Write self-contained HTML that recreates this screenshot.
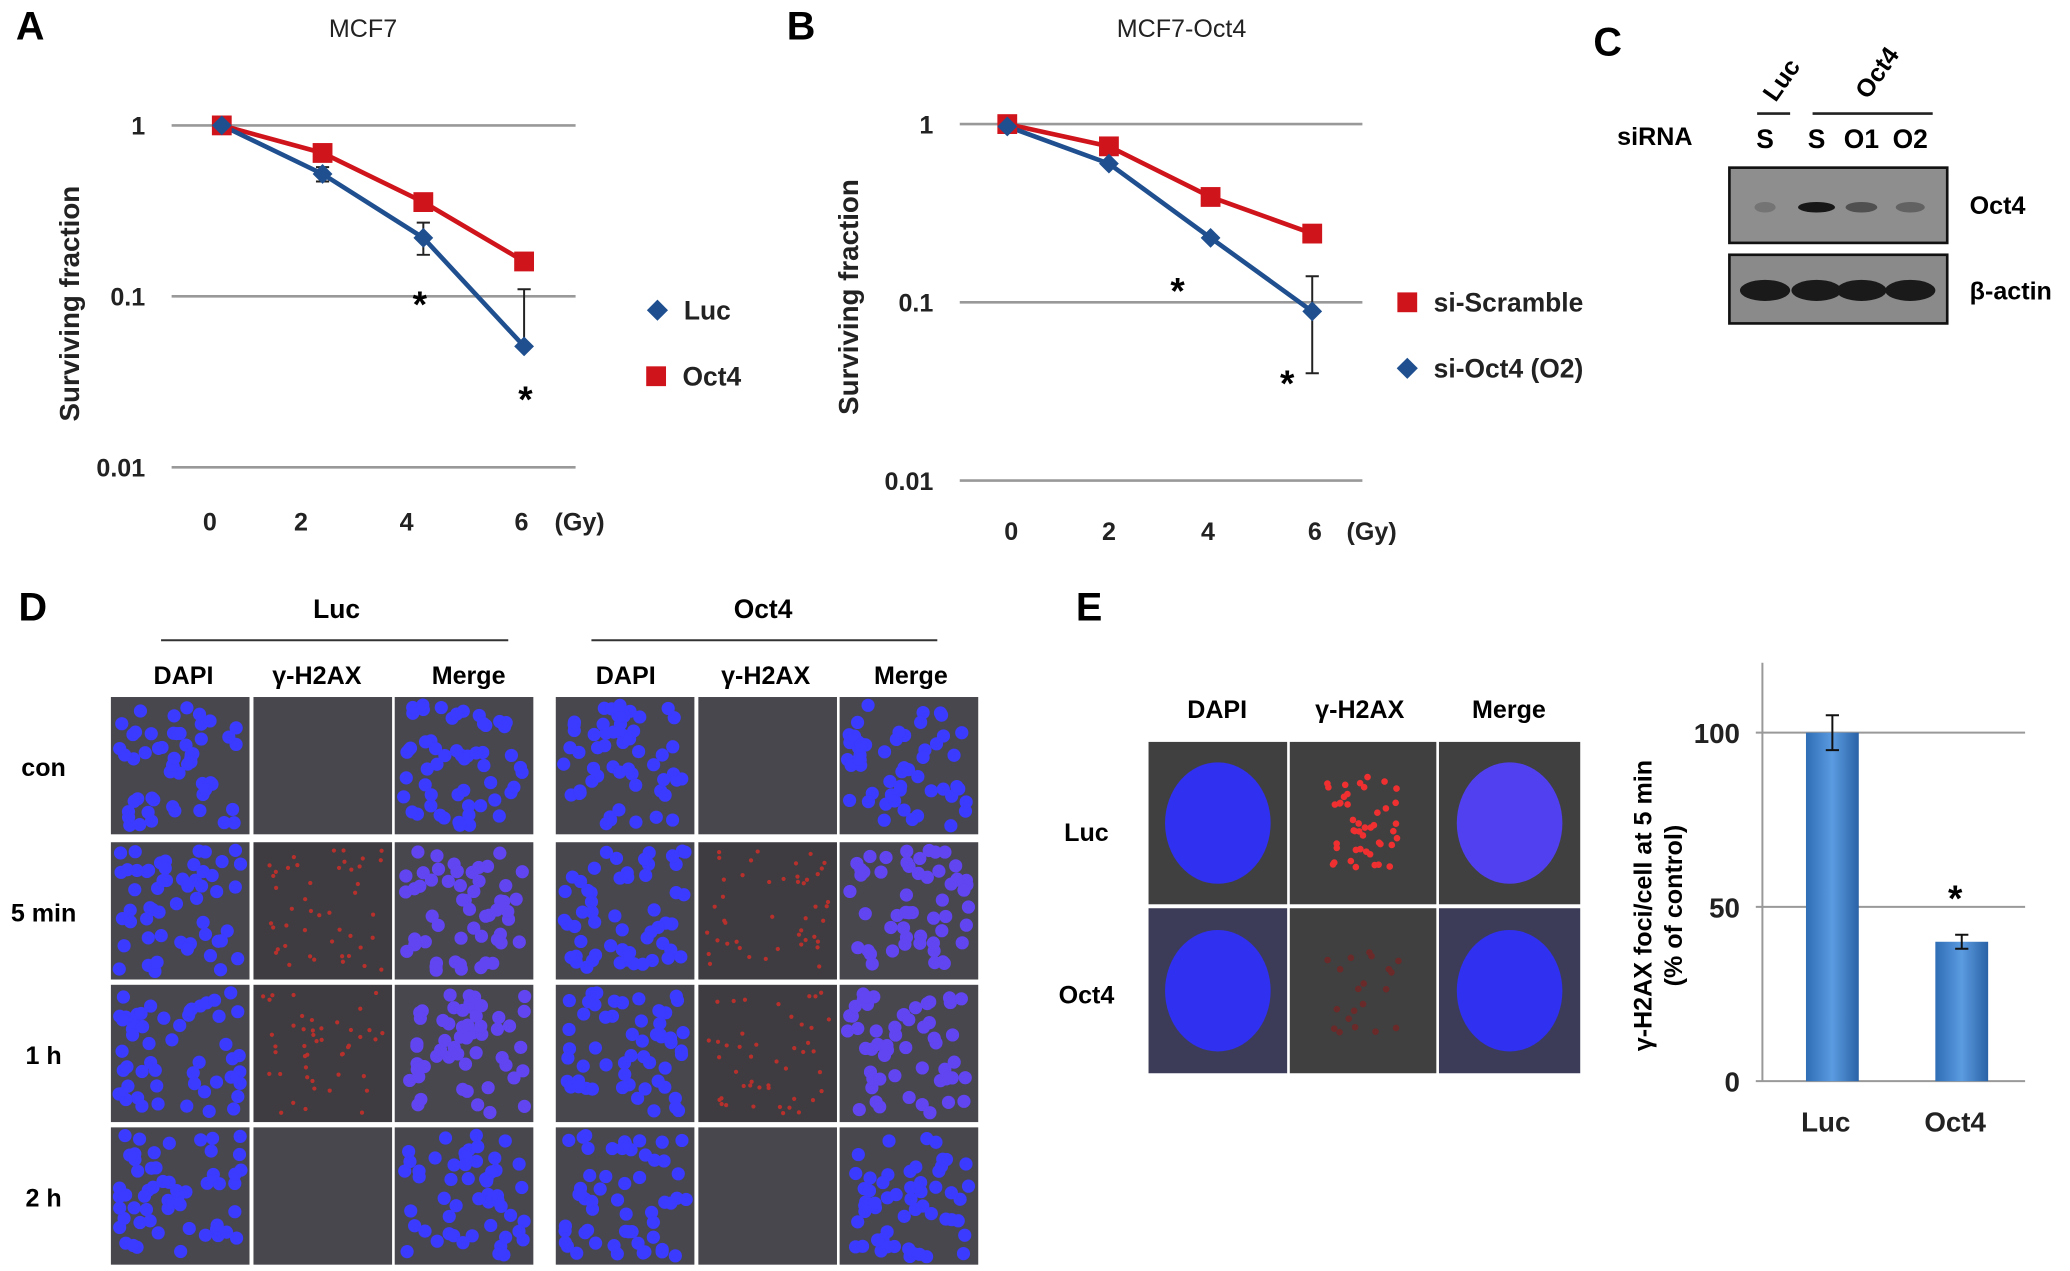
<!DOCTYPE html>
<html><head><meta charset="utf-8"><style>
html,body{margin:0;padding:0;background:#fff;}
svg{display:block;}
text{font-family:"Liberation Sans",sans-serif;}
</style></head><body>
<svg id="fig" width="2070" height="1271" viewBox="0 0 1568 962.8" preserveAspectRatio="none" xmlns="http://www.w3.org/2000/svg">
<defs>
<linearGradient id="barg" x1="0" x2="1" y1="0" y2="0"><stop offset="0" stop-color="#2f6db5"/><stop offset="0.5" stop-color="#5b9be0"/><stop offset="1" stop-color="#2a62a6"/></linearGradient>
</defs>
<g id="root"></g>
</svg>
<script>
// ===== Panel A data =====
const doseA = [0, 2, 4, 6];
const lucA = [1, 0.52, 0.22, 0.051];
const lucAerrHi = [1, 0.57, 0.27, 0.11];
const lucAerrLo = [1, 0.47, 0.175, 0.051];
const oct4A = [1, 0.69, 0.356, 0.16];
// ===== Panel B data =====
const doseB = [0, 2, 4, 6];
const scrB = [1, 0.75, 0.39, 0.243];
const siOctB = [0.97, 0.6, 0.23, 0.089];
const siOctBerrHi = [0.97, 0.6, 0.23, 0.14];
const siOctBerrLo = [0.97, 0.6, 0.23, 0.04];
const logTicks = [1, 0.1, 0.01];
const logTickLabels = ["1", "0.1", "0.01"];
// ===== Panel E bar data =====
const barCats = ["Luc", "Oct4"];
const barVals = [100, 40];
const barErr = [5, 2];
const barTicks = [0, 50, 100];

const NS = "http://www.w3.org/2000/svg";
const root = document.getElementById("root");
function mk(tag, attrs, parent, txt) {
  const e = document.createElementNS(NS, tag);
  for (const k in attrs) e.setAttribute(k, attrs[k]);
  if (txt !== undefined) e.textContent = txt;
  (parent || root).appendChild(e);
  return e;
}
function grp(name) {
  const g = mk("g", {});
  
  
  return g;
}
function diamond(cx, cy, r) { return `${cx},${cy - r} ${cx + r},${cy} ${cx},${cy + r} ${cx - r},${cy}`; }

// ---------- survival chart ----------
function survival(cfg) {
  const g = grp(cfg.name);
  const ys = v => cfg.y1 - cfg.dec * Math.log10(v);
  const xs = d => cfg.x0 + (cfg.x6 - cfg.x0) * d / 6;
  const pl = mk("text", {x: cfg.letterX, y: 30, "font-size": 30, "font-weight": "bold"}, g, cfg.letter);
  
  
  const t = mk("text", {x: cfg.titleX, y: 28, "font-size": 19, "text-anchor": "middle", fill: "#222"}, g, cfg.title);
  
  
  logTicks.forEach((v, i) => {
    const y = ys(v);
    const l = mk("line", {x1: cfg.gx0, x2: cfg.gx1, y1: y, y2: y, stroke: "#999", "stroke-width": 2}, g);
    
    
    const tl = mk("text", {x: cfg.tickX, y: y + 7, "font-size": 19, "text-anchor": "end", "font-weight": "bold", fill: "#222"}, g, logTickLabels[i]);
    
    
  });
  cfg.xLabelX.forEach((x, i) => {
    const tl = mk("text", {x: x, y: cfg.xLabelY, "font-size": 19, "text-anchor": "middle", "font-weight": "bold", fill: "#222"}, g, String(doseA[i]));
    
    
  });
  const gy = mk("text", {x: cfg.gyX, y: cfg.xLabelY, "font-size": 19, "font-weight": "bold", fill: "#222"}, g, "(Gy)");
  
  
  const yt = mk("text", {x: 0, y: 0, "font-size": 21, "font-weight": "bold", "text-anchor": "middle", fill: "#222", transform: `translate(${cfg.ylabX},${cfg.ylabY}) rotate(-90)`}, g, "Surviving fraction");
  
  
  const rp = mk("polyline", {points: cfg.red.map((v, i) => `${xs(cfg.dose[i])},${ys(v)}`).join(" "), fill: "none", stroke: "#d0141c", "stroke-width": 3.5}, g);
  
  
  const bp = mk("polyline", {points: cfg.blue.map((v, i) => `${xs(cfg.dose[i])},${ys(v)}`).join(" "), fill: "none", stroke: "#1f4f8f", "stroke-width": 3.5}, g);
  
  
  cfg.blue.forEach((v, i) => {
    const x = xs(cfg.dose[i]);
    const hi = ys(cfg.bHi[i]), lo = ys(cfg.bLo[i]);
    if (Math.abs(hi - lo) > 2) {
      const e = mk("path", {d: `M${x},${hi}V${lo}M${x - 5},${hi}H${x + 5}M${x - 5},${lo}H${x + 5}`, stroke: "#222", "stroke-width": 1.5, fill: "none"}, g);
      
      
    }
  });
  cfg.red.forEach((v, i) => {
    const x = xs(cfg.dose[i]);
    const r = mk("rect", {x: x - 7.5, y: ys(v) - 7.5, width: 15, height: 15, fill: "#d0141c"}, g);
    
    
  });
  cfg.blue.forEach((v, i) => {
    const x = xs(cfg.dose[i]);
    const d = mk("polygon", {points: diamond(x, ys(v), 7.5), fill: "#1f4f8f"}, g);
    
    
  });
  cfg.stars.forEach(s => {
    const st = mk("text", {x: s[0], y: s[1], "font-size": 28, "font-weight": "bold", "text-anchor": "middle"}, g, "*");
    
    
  });
  cfg.legend.forEach(L => {
    const m = L.shape === "sq" ? mk("rect", {x: L.x - 7.5, y: L.y - 7.5, width: 15, height: 15, fill: "#d0141c"}, g)
                               : mk("polygon", {points: diamond(L.x, L.y, 8), fill: "#1f4f8f"}, g);
    
    
    const tx = mk("text", {x: L.x + 20, y: L.y + 7, "font-size": 20, "font-weight": "bold", fill: "#222"}, g, L.label);
    
    
  });
}
survival({name: "chart-a-mcf7", letter: "A", letterX: 12, title: "MCF7", titleX: 275,
  y1: 95, dec: 129.5, x0: 168, x6: 397, gx0: 130, gx1: 436, tickX: 110,
  xLabelX: [159, 228, 308, 395], xLabelY: 402, gyX: 420, ylabX: 60, ylabY: 230,
  dose: doseA, red: oct4A, blue: lucA, bHi: lucAerrHi, bLo: lucAerrLo,
  redName: "oct4", blueName: "luc", stars: [[318, 240], [398, 312]],
  legend: [{shape: "di", x: 498, y: 235, label: "Luc"}, {shape: "sq", x: 497, y: 285, label: "Oct4"}]});
survival({name: "chart-b-mcf7-oct4", letter: "B", letterX: 596, title: "MCF7-Oct4", titleX: 895,
  y1: 94, dec: 135, x0: 763, x6: 994, gx0: 727, gx1: 1032, tickX: 707,
  xLabelX: [766, 840, 915, 996], xLabelY: 409, gyX: 1020, ylabX: 650, ylabY: 225,
  dose: doseB, red: scrB, blue: siOctB, bHi: siOctBerrHi, bLo: siOctBerrLo,
  redName: "si-scramble", blueName: "si-oct4", stars: [[892, 230], [975, 300]],
  legend: [{shape: "sq", x: 1066, y: 229, label: "si-Scramble"}, {shape: "di", x: 1066, y: 279, label: "si-Oct4  (O2)"}]});

// ---------- Panel C western blot ----------
(function () {
  const g = grp("panel-c-western-blot");
  mk("text", {x: 1207, y: 42, "font-size": 30, "font-weight": "bold"}, g, "C");
  const a = mk("text", {x: 1345, y: 78, "font-size": 19, "font-weight": "bold", transform: "rotate(-55 1345 78)"}, g, "Luc");
   
  const b = mk("text", {x: 1415, y: 76, "font-size": 19, "font-weight": "bold", transform: "rotate(-55 1415 76)"}, g, "Oct4");
   
  mk("line", {x1: 1331, x2: 1356, y1: 86, y2: 86, stroke: "#222", "stroke-width": 2}, g);
  mk("line", {x1: 1373, x2: 1464, y1: 86, y2: 86, stroke: "#222", "stroke-width": 2}, g);
  mk("text", {x: 1225, y: 110, "font-size": 19, "font-weight": "bold"}, g, "siRNA");
  [["S", 1337], ["S", 1376], ["O1", 1410], ["O2", 1447]].forEach(s => {
    const t = mk("text", {x: s[1], y: 112, "font-size": 20, "text-anchor": "middle", "font-weight": "bold"}, g, s[0]);
     
  });
  const b1 = mk("rect", {x: 1310, y: 127, width: 165, height: 57, fill: "#8e8e8e", stroke: "#111", "stroke-width": 2}, g);
   
  const b2 = mk("rect", {x: 1310, y: 193, width: 165, height: 52, fill: "#8a8a8a", stroke: "#111", "stroke-width": 2}, g);
   
  [[1337, 0.2, 8], [1376, 0.95, 14], [1410, 0.5, 12], [1447, 0.35, 11]].forEach(b => mk("ellipse", {cx: b[0], cy: 157, rx: b[2], ry: 4, fill: "#111", opacity: b[1]}, g));
  [1337, 1376, 1410, 1447].forEach(x => mk("ellipse", {cx: x, cy: 220, rx: 19, ry: 8, fill: "#1a1a1a"}, g));
  mk("text", {x: 1492, y: 162, "font-size": 19, "font-weight": "bold"}, g, "Oct4");
  mk("text", {x: 1492, y: 227, "font-size": 19, "font-weight": "bold"}, g, "β-actin");
})();

// ---------- microscopy tiles ----------
let seed = 7;
function rnd() { seed = (seed * 9301 + 49297) % 233280; return seed / 233280; }
function tile(g, x, y, w, h, kind) {
  mk("rect", {x: x, y: y, width: w, height: h, fill: kind === "red" ? "#3e3c40" : "#47474d"}, g);
  const n = kind === "none" ? 0 : (kind === "red" ? 45 : 55);
  for (let i = 0; i < n; i++) {
    const cx = x + 6 + rnd() * (w - 12), cy = y + 6 + rnd() * (h - 12);
    if (kind === "blue") mk("circle", {cx: cx, cy: cy, r: 5, fill: "#3b3bff"}, g);
    else if (kind === "merge") mk("circle", {cx: cx, cy: cy, r: 5, fill: "#6045f0"}, g);
    else if (kind === "red") mk("circle", {cx: cx, cy: cy, r: 1.6, fill: "#b8302c"}, g);
  }
}
(function () {
  const g = grp("panel-d-microscopy");
  mk("text", {x: 14, y: 470, "font-size": 30, "font-weight": "bold"}, g, "D");
  mk("text", {x: 255, y: 468, "font-size": 20, "font-weight": "bold", "text-anchor": "middle"}, g, "Luc");
  mk("line", {x1: 122, x2: 385, y1: 485, y2: 485, stroke: "#333", "stroke-width": 1.5}, g);
  mk("text", {x: 578, y: 468, "font-size": 20, "font-weight": "bold", "text-anchor": "middle"}, g, "Oct4");
  mk("line", {x1: 448, x2: 710, y1: 485, y2: 485, stroke: "#333", "stroke-width": 1.5}, g);
  [["DAPI", 139], ["γ-H2AX", 240], ["Merge", 355], ["DAPI", 474], ["γ-H2AX", 580], ["Merge", 690]].forEach(h =>
    mk("text", {x: h[1], y: 518, "font-size": 19, "font-weight": "bold", "text-anchor": "middle"}, g, h[0]));
  const rows = [["con", 528], ["5 min", 638], ["1 h", 746], ["2 h", 854]];
  const cols = [[84, "blue"], [192, "red"], [299, "merge"], [421, "blue"], [529, "red"], [636, "merge"]];
  rows.forEach((r, ri) => {
    mk("text", {x: 33, y: r[1] + 60, "font-size": 19, "font-weight": "bold", "text-anchor": "middle"}, g, r[0]);
    cols.forEach(c => {
      let k = c[1];
      if (k === "red" && (ri === 0 || ri === 3)) k = "none";
      if (k === "merge" && (ri === 0 || ri === 3)) k = "blue";
      tile(g, c[0], r[1], 105, 104, k);
    });
  });
})();

// ---------- Panel E images ----------
(function () {
  const g = grp("panel-e-microscopy");
  mk("text", {x: 815, y: 470, "font-size": 30, "font-weight": "bold"}, g, "E");
  [["DAPI", 922], ["γ-H2AX", 1030], ["Merge", 1143]].forEach(h =>
    mk("text", {x: h[1], y: 544, "font-size": 19, "font-weight": "bold", "text-anchor": "middle"}, g, h[0]));
  mk("text", {x: 823, y: 637, "font-size": 19, "font-weight": "bold", "text-anchor": "middle"}, g, "Luc");
  mk("text", {x: 823, y: 760, "font-size": 19, "font-weight": "bold", "text-anchor": "middle"}, g, "Oct4");
  [[870, 105], [977, 111], [1090, 107]].forEach((c, ci) => {
    [[562, 123], [688, 125]].forEach((r, ri) => {
      mk("rect", {x: c[0], y: r[0], width: c[1], height: r[1], fill: ri === 1 && ci !== 1 ? "#3c3c58" : "#404040"}, g);
      const cx = c[0] + c[1] / 2, cy = r[0] + r[1] / 2;
      if (ci !== 1) mk("ellipse", {cx: cx, cy: cy, rx: 40, ry: 46, fill: ci === 2 && ri === 0 ? "#5040f0" : "#3030f0"}, g);
      else for (let i = 0; i < (ri === 0 ? 45 : 20); i++) mk("circle", {cx: cx - 28 + rnd() * 56, cy: cy - 35 + rnd() * 70, r: 2.5, fill: ri === 0 ? "#f03030" : "#6a2a2a"}, g);
    });
  });
})();

// ---------- Panel E bar chart ----------
(function () {
  const g = grp("bar-chart-foci");
  const y0 = 819, pxPer = 2.64;
  const ys = v => y0 - pxPer * v;
  const xc = [1388, 1486];
  const ax = mk("line", {x1: 1335, x2: 1335, y1: 502, y2: 819, stroke: "#999", "stroke-width": 1.5}, g);
   
  barTicks.forEach(v => {
    const l = mk("line", {x1: 1330, x2: 1534, y1: ys(v), y2: ys(v), stroke: "#999", "stroke-width": 1.5}, g);
     
    const t = mk("text", {x: 1318, y: ys(v) + 8, "font-size": 21, "font-weight": "bold", "text-anchor": "end", fill: "#222"}, g, String(v));
     
  });
  barVals.forEach((v, i) => {
    const b = mk("rect", {x: xc[i] - 20, y: ys(v), width: 40, height: pxPer * v, fill: "url(#barg)"}, g);
     
    const hi = ys(v + barErr[i]), lo = ys(v - barErr[i]);
    const e = mk("path", {d: `M${xc[i]},${hi}V${lo}M${xc[i] - 5},${hi}H${xc[i] + 5}M${xc[i] - 5},${lo}H${xc[i] + 5}`, stroke: "#111", "stroke-width": 1.5, fill: "none"}, g);
     
    const t = mk("text", {x: xc[i] - 5, y: 857, "font-size": 21, "font-weight": "bold", "text-anchor": "middle", fill: "#222"}, g, barCats[i]);
     
  });
  const st = mk("text", {x: 1481, y: 690, "font-size": 28, "font-weight": "bold", "text-anchor": "middle"}, g, "*");
   
  const yl = mk("text", {"font-size": 19, "font-weight": "bold", "text-anchor": "middle", transform: "translate(1251,686) rotate(-90)"}, g, "γ-H2AX foci/cell at 5 min");
   
  const yl2 = mk("text", {"font-size": 19, "font-weight": "bold", "text-anchor": "middle", transform: "translate(1274,686) rotate(-90)"}, g, "(% of control)");
   
})();
</script>
</body></html>
